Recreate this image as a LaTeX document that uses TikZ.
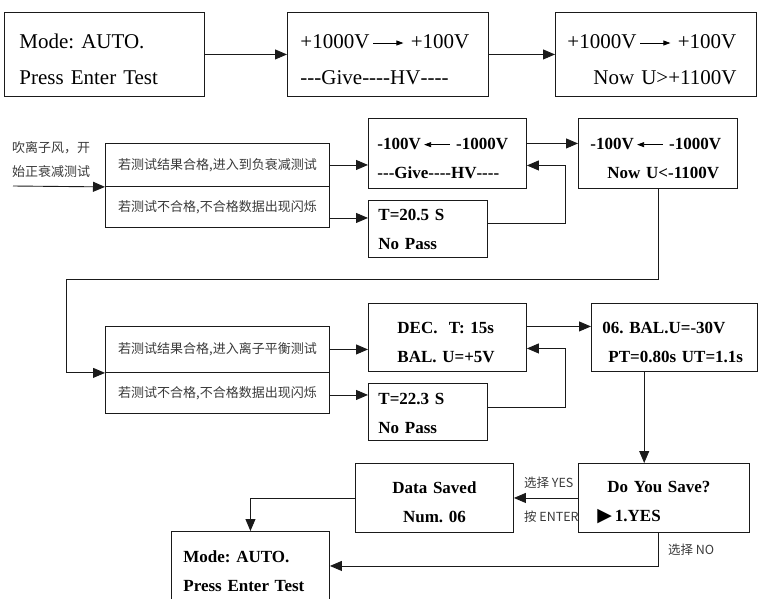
\documentclass[tikz,border=0pt]{standalone}
\usepackage{amsmath,amssymb}
\usepackage{fontspec}
\setmainfont{Liberation Serif}
\newfontfamily\cjk{Noto Sans CJK SC}
\newfontfamily\symfont{DejaVu Sans}
\usepackage{xcolor}
\usepackage{tikz}
\usetikzlibrary{positioning,arrows.meta,calc}
\definecolor{LineDark}{HTML}{1A1A1A}
\definecolor{NoteGray}{HTML}{3A3A3A}
\newcommand{\toarr}{\tikz[baseline=-0.6ex]\draw[line width=.8pt,-{Triangle[length=7pt,width=5pt]}] (0pt,0pt) -- (30pt,0pt);}
\newcommand{\fromarr}{\tikz[baseline=-0.6ex]\draw[line width=.8pt,{Triangle[length=7pt,width=5pt]}-] (0pt,0pt) -- (26pt,0pt);}
\newcommand{\hy}{\mbox{-}}
\newcommand{\plainfont}{\fontsize{21}{36}\selectfont\frenchspacing}
\newcommand{\boldfont}{\fontsize{17}{29}\selectfont\bfseries\frenchspacing}

\begin{document}
\begin{tikzpicture}[x=1pt,y=-1pt,
          screen/.style={draw=LineDark, line width=.9pt, anchor=north west,
            inner ysep=0pt, align=left, text=black},
          cond/.style={draw=LineDark, line width=.9pt, anchor=north west,
            inner sep=0pt, minimum width=224pt, align=center,
            text=NoteGray, font=\cjk\fontsize{13}{16}\selectfont},
          note/.style={anchor=west, inner sep=0pt, text=NoteGray,
            font=\cjk\fontsize{12.5}{15}\selectfont},
          ar/.style={-{Triangle[length=12pt,width=10pt]},line width=.9pt,LineDark}]
        \clip (0,0) rectangle (758,598);
        % top row
        \node[screen, minimum height=84pt, inner xsep=15pt, text width=170pt, font=\plainfont]
        (b1) at (4,12) {\rule{0pt}{25pt}Mode: AUTO.\\Press Enter Test};
        \node[screen, minimum height=84pt, inner xsep=13pt, text width=175pt, font=\plainfont]
        (b2) at (287,12) {\rule{0pt}{25pt}+1000V\,\toarr\ +100V\\\hy\hy\hy Give\hy\hy\hy\hy HV\hy\hy\hy\hy};
        \node[screen, minimum height=84pt, inner xsep=12pt, text width=177pt, font=\plainfont]
        (b3) at (555,12) {\rule{0pt}{25pt}+1000V\,\toarr\ +100V\\\hspace*{26pt}Now U>+1100V};
        \draw[ar](b1)--(b2); \draw[ar](b2)--(b3);
        % negative decay test
        \node[note, align=left, font=\cjk\fontsize{13}{24}\selectfont]
        (intro) at (12,160) {吹离子风，开\\始正衰减测试};
        \coordinate (in) at (13,186);
        \node[cond, minimum height=43pt] (c1a) at (105,143) {若测试结果合格,进入到负衰减测试};
        \node[cond, minimum height=41pt] (c1b) at (105,186) {若测试不合格,不合格数据出现闪烁};
        \node[screen, minimum height=70pt, inner xsep=9pt, text width=140pt, font=\boldfont]
        (b4) at (368,118) {\rule{0pt}{21pt}-100V\,\fromarr\ -1000V\\\hy\hy\hy Give\hy\hy\hy\hy HV\hy\hy\hy\hy};
        \node[screen, minimum height=57pt, inner xsep=10pt, text width=99pt, font=\boldfont]
        (b5) at (368,200) {T=20.5 S\\No Pass};
        \node[screen, minimum height=70pt, inner xsep=12pt, text width=135pt, font=\boldfont]
        (b6) at (578,118) {\rule{0pt}{21pt}-100V\,\fromarr\ -1000V\\\hspace*{17pt}Now U<-1100V};
        \draw[ar](in)--(c1a.south west);
        \draw[ar](c1a.east)--(c1a.east -| b4.west);
        \draw[ar]($(c1b.east)+(0,11)$) coordinate (t1)--(t1 -| b5.west);
        \draw[ar]($(b5.east)+(0,-6)$)--++(78,0)|-($(b4.east)+(0,12)$);
        \draw[ar]($(b4.east)+(0,-10)$) coordinate (t2)--(t2 -| b6.west);
        % balance test
        \coordinate (bend) at (66,279);
        \node[cond, minimum height=46pt] (c2a) at (105,326) {若测试结果合格,进入离子平衡测试};
        \node[cond, minimum height=41pt] (c2b) at (105,372) {若测试不合格,不合格数据出现闪烁};
        \node[screen, minimum height=68pt, inner xsep=29pt, text width=100pt, font=\boldfont]
        (b8) at (368,303) {\rule{0pt}{21pt}DEC.\ \ T: 15s\\BAL. U=+5V};
        \node[screen, minimum height=57pt, inner xsep=10pt, text width=99pt, font=\boldfont]
        (b9) at (368,383) {\rule{0pt}{15pt}T=22.3 S\\No Pass};
        \node[screen, minimum height=68pt, inner xsep=11pt, text width=143.5pt, font=\boldfont]
        (b10) at (591,303) {\rule{0pt}{21pt}06. BAL.U=-30V\\\hspace*{6pt}PT=0.80s UT=1.1s};
        \draw[ar](b6.south)|-(bend)|-(c2a.south west);
        \draw[ar](c2a.east)--(c2a.east -| b8.west);
        \draw[ar]($(c2b.east)+(0,2)$) coordinate (t3)--(t3 -| b9.west);
        \draw[ar]($(b9.east)+(0,-5)$)--++(78,0)|-($(b8.east)+(0,11)$);
        \draw[ar]($(b8.east)+(0,-11)$) coordinate (t4)--(t4 -| b10.west);
        % saving
        \node[screen, minimum height=69pt, inner xsep=19pt, text width=133pt, font=\boldfont]
        (b11) at (578,463) {\rule{0pt}{21pt}\hspace*{10pt}Do You Save?\\{\symfont\fontsize{19}{19}\selectfont ▶}\,1.YES};
        \node[screen, minimum height=69pt, inner xsep=0pt, text width=158pt, align=center, font=\boldfont]
        (b12) at (355,463) {\rule{0pt}{20pt}Data Saved\\Num. 06};
        \node[screen, minimum height=69pt, inner xsep=12pt, text width=134pt, font=\boldfont]
        (b13) at (171,531) {\rule{0pt}{22pt}Mode: AUTO.\\Press Enter Test};
        \draw[ar]($(b10.south)+(-30,0)$) coordinate (t5)--(t5 |- b11.north);
        \draw[ar](b11)--(b12);
        \draw[ar](b12.west)-|(b13.north);
        \draw[ar]($(b11.south)+(-6,0)$)|-(b13.east);
        \node[note] (yes) at ($(b12.east)+(10,-15.5)$) {选择 YES};
        \node[note] (enter) at ($(b12.east)+(10,18.5)$) {按 ENTER};
        \node[note] (no) at ($(b11.south)+(4,17)$) {选择 NO};
      \end{tikzpicture}
\end{document}
